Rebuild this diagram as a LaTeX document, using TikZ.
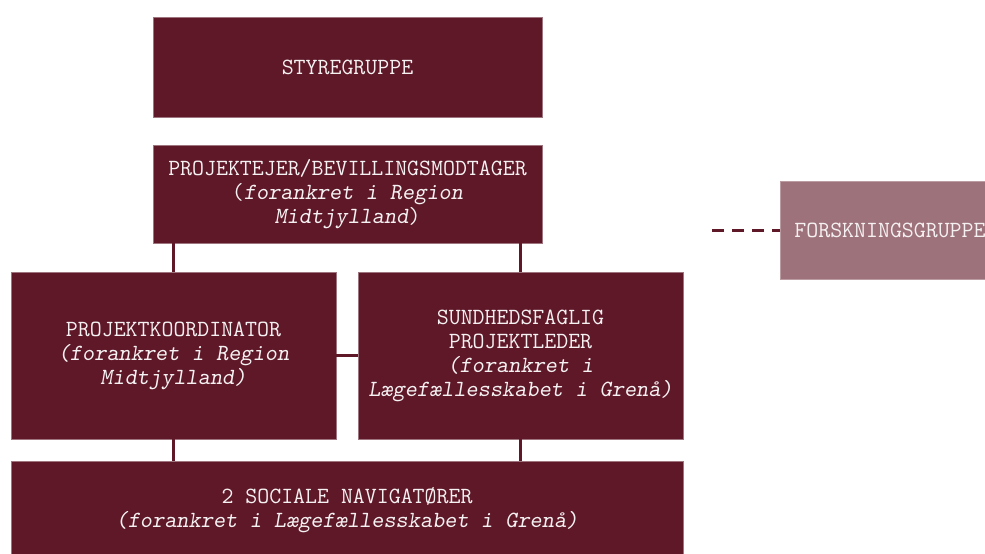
\documentclass[tikz,border=0pt]{standalone}
\usepackage{fontspec}
\usepackage{xcolor}
\definecolor{myred}{RGB}{94,24,40}
\definecolor{mypink}{RGB}{158,114,122}
\usepackage{tikz}
\usetikzlibrary{calc}
\begin{document}
\begin{tikzpicture}[x=1pt,y=-1pt,line cap=butt]
	\tikzstyle{boks}=[rectangle,inner sep=0pt,outer sep=0pt,align=center,fill=myred,draw=myred!60!white,line width=.6pt,text=white!94!myred,font=\ttfamily\fontsize{23.2}{24}\selectfont];
	\tikzstyle{link}=[line width=3pt,myred];
	\useasboundingbox (0,0) rectangle (985,554);
	%%
	\coordinate (S) at (347.5,67);
	\coordinate (P) at (347.5,194);
	\coordinate (K) at (173.5,355.5);
	\coordinate (L) at (520.5,355.5);
	\coordinate (N) at (347,510);
	\coordinate (F) at (890,230);
	\coordinate (dashend) at (708,230);
	%%
	\node[boks,minimum width=389pt,minimum height=100pt] (styre) at (S) {STYREGRUPPE};
	\node[boks,minimum width=389pt,minimum height=98pt] (owner) at (P)
		{PROJEKTEJER/BEVILLINGSMODTAGER\\(\textsl{forankret i Region}\\\textsl{Midtjylland})};
	\node[boks,minimum width=325pt,minimum height=167pt] (koord) at (K)
		{PROJEKTKOORDINATOR\\\textsl{(forankret i Region}\\\textsl{Midtjylland)}};
	\node[boks,minimum width=325pt,minimum height=167pt] (sund) at (L)
		{SUNDHEDSFAGLIG\\PROJEKTLEDER\\\textsl{(forankret i}\\\textsl{Lægefællesskabet i Grenå)}};
	\node[boks,minimum width=672pt,minimum height=98pt] (nav) at (N)
		{2 SOCIALE NAVIGATØRER\\\textsl{(forankret i Lægefællesskabet i Grenå)}};
	\node[boks,fill=mypink,draw=mypink!70!white,minimum width=220pt,minimum height=98pt] (forsk) at (F)
		{FORSKNINGSGRUPPE};
	%%
	\draw[link] (koord.north) -- (koord.north |- owner.south);
	\draw[link] (sund.north) -- (sund.north |- owner.south);
	\draw[link] (koord.east) -- (sund.west);
	\draw[link] (koord.south) -- (koord.south |- nav.north);
	\draw[link] (sund.south) -- (sund.south |- nav.north);
	%%
	\draw[link,dash pattern=on 12pt off 8pt,dash phase=4pt] (forsk.west) -- (dashend);
\end{tikzpicture}
\end{document}
